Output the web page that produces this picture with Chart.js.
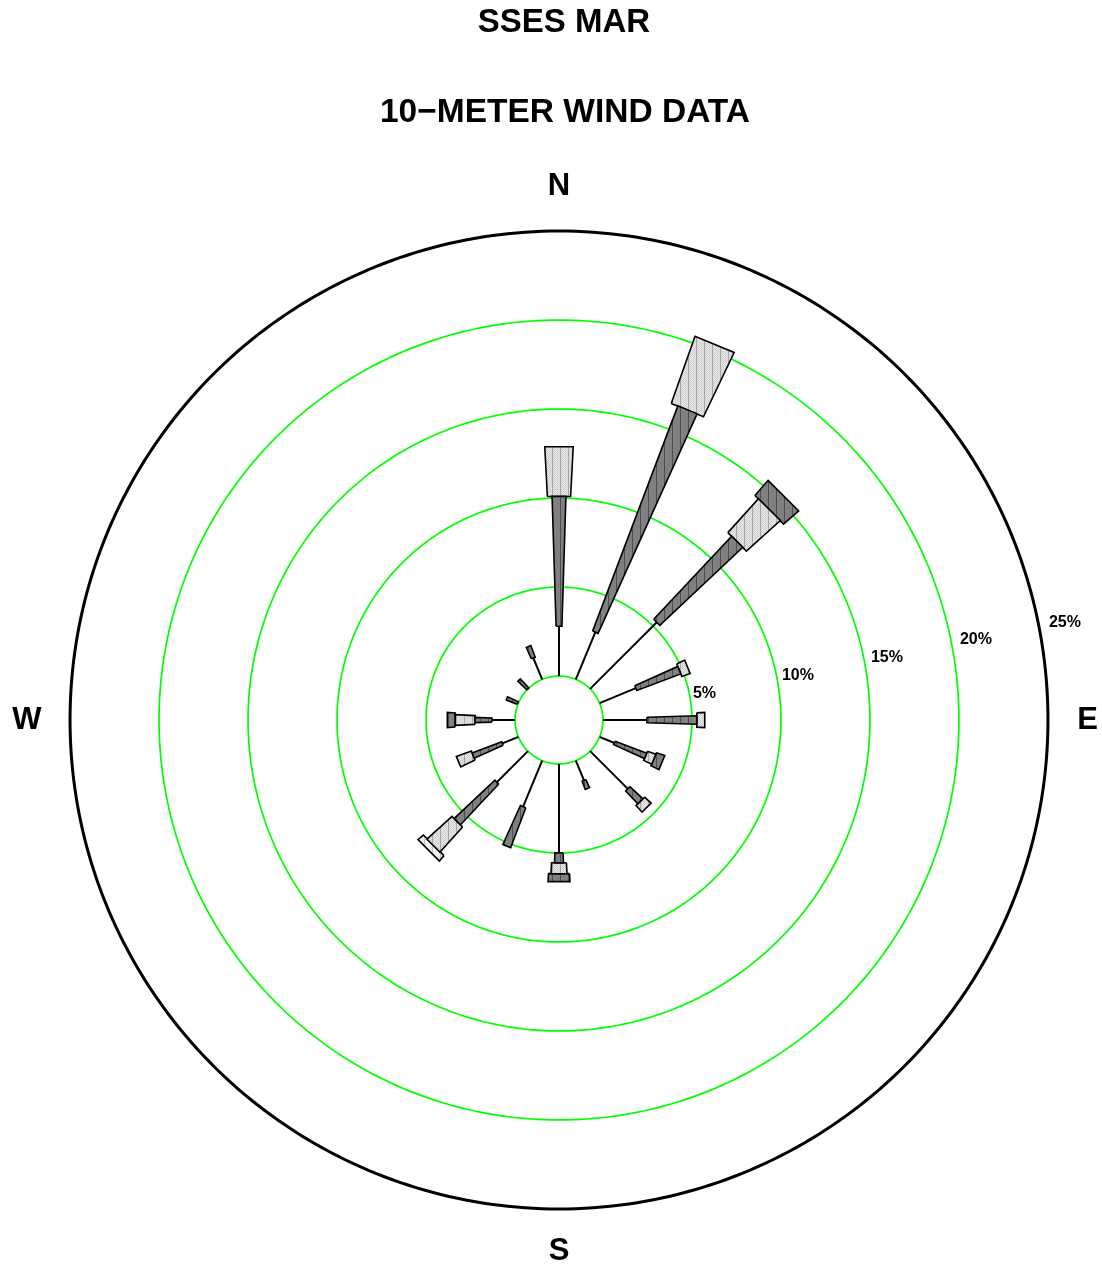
<!DOCTYPE html>
<html>
<head>
<meta charset="utf-8">
<script src="https://cdn.jsdelivr.net/npm/chart.js@4.4.0/dist/chart.umd.min.js"></script>
<style>
  html, body { margin: 0; padding: 0; background: #ffffff; }
  #wrap { width: 1102px; height: 1266px; position: relative; }
</style>
</head>
<body>
<div id="wrap"><canvas id="rose"></canvas></div>
<script>
// ---- data -------------------------------------------------------------
const TITLE_LINES = ['SSES MAR', '10\u2212METER WIND DATA'];
const DIRECTIONS = ['N', 'NNE', 'NE', 'ENE', 'E', 'ESE', 'SE', 'SSE',
                    'S', 'SSW', 'SW', 'WSW', 'W', 'WNW', 'NW', 'NNW'];
const COMPASS_LABELS = ['N', 'E', 'S', 'W'];
const RING_VALUES = [5, 10, 15, 20, 25];
const RING_LABELS = ['5%', '10%', '15%', '20%', '25%'];
const CALM_RADIUS = 2.47;   // radius of the calm circle, in percent units

// frequency (%) of each wind-speed class, per direction
const SPEED_1 = [2.80, 2.87, 5.30, 2.20, 2.47, 0.90, 3.00, 1.20, 5.00, 2.80, 2.47, 0.97, 1.30, 0.05, 0.00, 1.30];
const SPEED_2 = [7.30, 13.53, 6.40, 2.65, 2.81, 1.90, 1.00, 0.50, 0.56, 2.40, 3.15, 1.78, 0.95, 0.65, 0.70, 0.70];
const SPEED_3 = [2.80, 4.00, 2.57, 0.50, 0.45, 0.50, 0.50, 0.00, 0.62, 0.00, 1.90, 0.90, 1.12, 0.00, 0.00, 0.00];
const SPEED_4 = [0.00, 0.00, 1.13, 0.00, 0.00, 0.50, 0.00, 0.00, 0.45, 0.00, 0.00, 0.00, 0.45, 0.00, 0.00, 0.00];
const SPEED_5 = [0.00, 0.00, 0.00, 0.00, 0.00, 0.00, 0.00, 0.00, 0.00, 0.00, 0.40, 0.00, 0.00, 0.00, 0.00, 0.00];

// ---- styling ----------------------------------------------------------
const FONT = '"Liberation Sans", Arial, Helvetica, sans-serif';
const SPEED_CLASSES = [SPEED_1, SPEED_2, SPEED_3, SPEED_4, SPEED_5];
const HALF_ANGLE = [0, 0.031, 0.052, 0.068, 0.082];   // radians, per class
const COMPASS_RADIUS = [30.0, 29.7, 29.85, 29.9];      // label distance per compass point
const SOLID = [10000, 0];   // solid dash: keeps every vertex in the stroked path

function hatch(base, stripe, checker) {
  const c = document.createElement('canvas');
  c.width = 8; c.height = 8;
  const g = c.getContext('2d');
  g.fillStyle = base;
  g.fillRect(0, 0, 8, 8);
  if (checker) {
    g.fillStyle = checker;
    for (let y = 0; y < 8; y++)
      for (let x = 0; x < 8; x++)
        if ((x + y) % 2 === 0) g.fillRect(x, y, 1, 1);
  }
  g.fillStyle = stripe;
  g.fillRect(0, 0, 1, 8);
  return g.createPattern(c, 'repeat');
}

const FILLS = [
  null,
  hatch('#808080', '#4e4e4e', null),
  hatch('#e8e8e8', '#a6a6a6', '#cfcfcf'),
  hatch('#808080', '#4e4e4e', null),
  hatch('#f6f6f6', '#c4c4c4', '#e6e6e6')
];

// ---- geometry helpers (data units, y pointing north) -----------------
function polar(r, phi) {
  return { x: r * Math.sin(phi), y: r * Math.cos(phi) };
}

function circle(r) {
  const pts = [];
  const n = 360;
  for (let i = 0; i <= n; i++) pts.push(polar(r, (i / n) * 2 * Math.PI));
  return pts;
}

const datasets = [];

// range rings
[0].concat(RING_VALUES).forEach(v => {
  const outer = v === RING_VALUES[RING_VALUES.length - 1];
  datasets.push({
    data: circle(CALM_RADIUS + v),
    borderColor: outer ? '#000000' : '#00ff00',
    borderWidth: outer ? 3 : 1.7,
    borderDash: SOLID,
    borderJoinStyle: 'round',
    fill: false,
    clip: false,
    order: 3
  });
});

// spokes: lowest class as a line, the rest as wedge segments
DIRECTIONS.forEach((dir, d) => {
  const phi = d * 2 * Math.PI / DIRECTIONS.length;
  let r0 = CALM_RADIUS;
  SPEED_CLASSES.forEach((cls, k) => {
    const v = cls[d];
    if (v <= 0) return;
    const r1 = r0 + v;
    if (k === 0) {
      datasets.push({
        data: [polar(r0, phi), polar(r1, phi)],
        borderColor: '#000000',
        borderWidth: 2,
        borderDash: SOLID,
        fill: false,
        order: 2
      });
    } else {
      const a = HALF_ANGLE[k];
      datasets.push({
        data: [polar(r0, phi - a), polar(r1, phi - a), polar(r1, phi + a),
               polar(r0, phi + a), polar(r0, phi - a)],
        borderColor: '#000000',
        borderWidth: 1.6,
        borderDash: SOLID,
        borderJoinStyle: 'miter',
        backgroundColor: FILLS[k],
        fill: 'shape',
        order: 1
      });
    }
    r0 = r1;
  });
});

// ---- text: titles, compass points, ring labels ------------------------
const roseText = {
  id: 'roseText',
  afterDraw(chart) {
    const { ctx, scales: { x, y } } = chart;
    ctx.save();
    ctx.fillStyle = '#000000';
    ctx.textAlign = 'center';
    ctx.textBaseline = 'middle';
    ctx.font = 'bold 33px ' + FONT;
    ctx.fillText(TITLE_LINES[0], 564, 23);
    ctx.font = 'bold 33.5px ' + FONT;
    ctx.fillText(TITLE_LINES[1], 565, 113);

    ctx.font = 'bold 31px ' + FONT;
    COMPASS_LABELS.forEach((t, i) => {
      const p = polar(COMPASS_RADIUS[i], i * Math.PI / 2);
      ctx.fillText(t, x.getPixelForValue(p.x), y.getPixelForValue(p.y));
    });

    ctx.font = 'bold 16px ' + FONT;
    ctx.textAlign = 'left';
    RING_VALUES.forEach((v, i) => {
      const r = CALM_RADIUS + v;
      ctx.fillText(RING_LABELS[i], x.getPixelForValue(r) + 1, y.getPixelForValue(0.2 * r));
    });
    ctx.restore();
  }
};

// ---- chart --------------------------------------------------------------
const UNIT = 17.8;          // pixels per percent
const HALF = 28;            // axis half-range in percent units
const CX = 559, CY = 720;   // rose centre on the page

new Chart(document.getElementById('rose'), {
  type: 'line',
  data: { datasets },
  options: {
    responsive: true,
    maintainAspectRatio: false,
    animation: false,
    events: [],
    layout: {
      padding: {
        left: CX - HALF * UNIT,
        right: 1102 - CX - HALF * UNIT,
        top: CY - HALF * UNIT,
        bottom: 1266 - CY - HALF * UNIT
      }
    },
    elements: {
      point: { radius: 0, hitRadius: 0, hoverRadius: 0 },
      line: { tension: 0 }
    },
    scales: {
      x: { type: 'linear', min: -HALF, max: HALF, display: false },
      y: { type: 'linear', min: -HALF, max: HALF, display: false }
    },
    plugins: {
      legend: { display: false },
      tooltip: { enabled: false },
      title: { display: false }
    }
  },
  plugins: [roseText]
});
</script>
</body>
</html>
